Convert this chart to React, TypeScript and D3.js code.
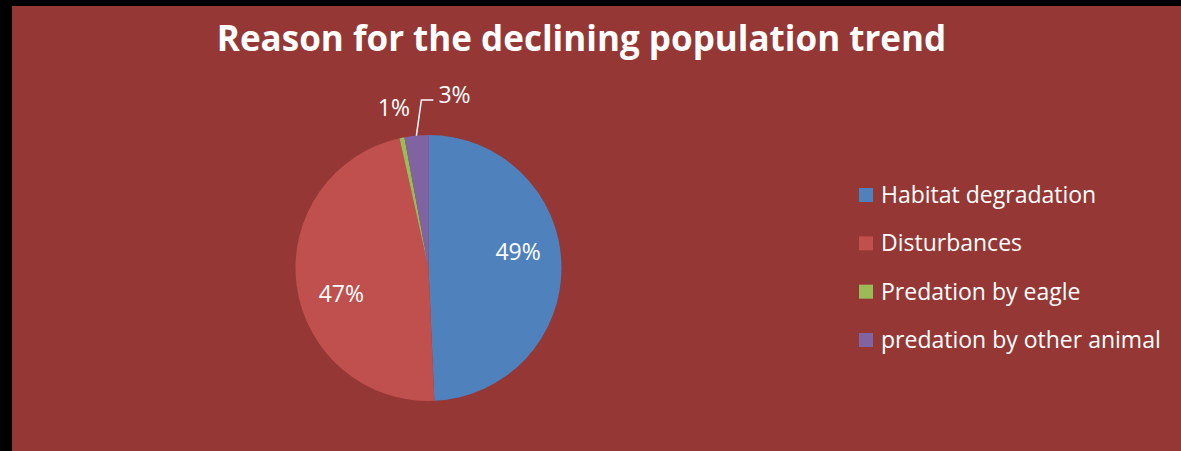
import React from "react";
import * as d3 from "d3";

const categories = [
  "Habitat degradation",
  "Disturbances",
  "Predation by eagle",
  "predation by other animal",
];
const shares = [49.3, 47.2, 0.6, 2.9];
const colors = ["#4F81BD", "#C0504D", "#9BBB59", "#8064A2"];
const title = "Reason for the declining population trend";

const W = 1181;
const H = 451;
const FONT = "'Open Sans', 'DejaVu Sans', sans-serif";

export default function App() {
  const cx = 428.5;
  const cy = 268;
  const r = 133;

  const pie = d3
    .pie<number>()
    .sort(null)
    .value((d) => d)
    .startAngle(0)
    .endAngle(2 * Math.PI);
  const arcs = pie(shares);
  const arc = d3.arc<d3.PieArcDatum<number>>().innerRadius(0).outerRadius(r);
  const total = d3.sum(shares);
  const pct = (v: number) => `${Math.round((v / total) * 100)}%`;

  // point on a circle of radius rad at angle a (0 = 12 o'clock, clockwise)
  const polar = (a: number, rad: number) => [Math.sin(a) * rad, -Math.cos(a) * rad];

  const legendY = d3.scalePoint<number>().domain(d3.range(categories.length)).range([195, 340]);

  return (
    <svg
      width={W}
      height={H}
      style={{ position: "absolute", left: 0, top: 0, display: "block" }}
      fontFamily={FONT}
    >
      <rect x={0} y={0} width={W} height={H} fill="#000" />
      <rect x={12} y={6} width={W - 12} height={H - 6} fill="#953735" />

      <text
        x={581.5}
        y={51}
        textAnchor="middle"
        fill="#fff"
        fontWeight="bold"
        fontSize={35}
      >
        {title}
      </text>

      <g transform={`translate(${cx},${cy})`}>
        {arcs.map((a, i) => (
          <path key={i} d={arc(a) || ""} fill={colors[i]} />
        ))}
        {arcs.map((a, i) => {
          const mid = (a.startAngle + a.endAngle) / 2;
          const frac = a.value / total;
          if (frac > 0.1) {
            // large slices: label inside
            const [lx, ly] = polar(mid - (9 * Math.PI) / 180, 91);
            return (
              <text
                key={"l" + i}
                x={lx}
                y={ly}
                dy="0.35em"
                textAnchor="middle"
                fill="#fff"
                fontSize={23}
              >
                {pct(a.value)}
              </text>
            );
          }
          const [px, py] = polar(mid, r);
          if (i === 2) {
            return (
              <text
                key={"l" + i}
                x={px - 8}
                y={py - 30}
                dy="0.35em"
                textAnchor="middle"
                fill="#fff"
                fontSize={23}
              >
                {pct(a.value)}
              </text>
            );
          }
          const ex = px + 5;
          const ey = -168;
          const hx = ex + 12;
          return (
            <g key={"l" + i}>
              <polyline
                points={`${px},${py} ${ex},${ey} ${hx},${ey}`}
                fill="none"
                stroke="#fff"
                strokeWidth={1.5}
              />
              <text x={hx + 5} y={ey - 5} dy="0.35em" fill="#fff" fontSize={23}>
                {pct(a.value)}
              </text>
            </g>
          );
        })}
      </g>

      <g>
        {categories.map((c, i) => (
          <g key={c} transform={`translate(859,${legendY(i)})`}>
            <rect x={0} y={-7} width={14} height={14} fill={colors[i]} />
            <text x={22} y={0} dy="0.35em" fill="#fff" fontSize={23}>
              {c}
            </text>
          </g>
        ))}
      </g>
    </svg>
  );
}
